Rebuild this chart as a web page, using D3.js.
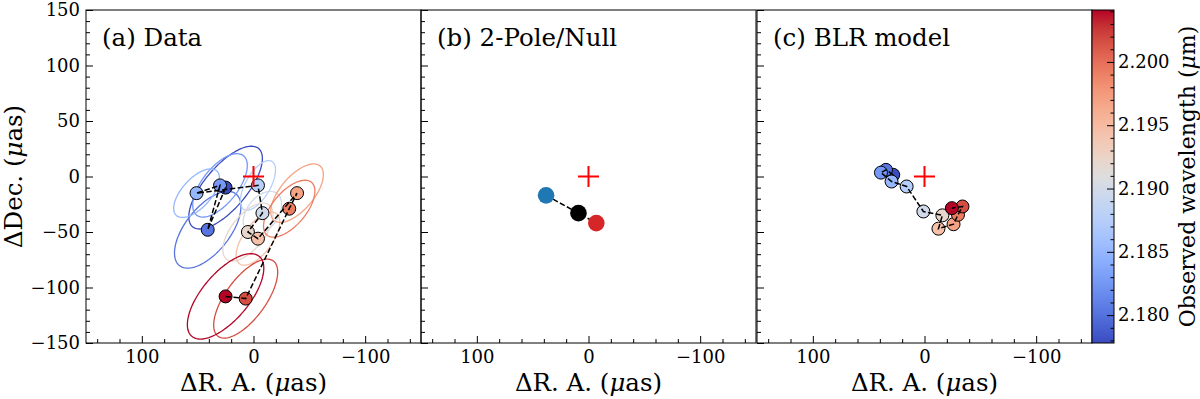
<!DOCTYPE html>
<html>
<head>
<meta charset="utf-8">
<script src="https://cdn.jsdelivr.net/npm/d3@7"></script>
<style>
  body { margin: 0; background: #fff; }
  text { font-family: "DejaVu Serif", serif; fill: #000; }
</style>
</head>
<body>
<svg id="chart" width="1200" height="399"></svg>
<script>
// ---- data ----
// 12 spectral channels, observed wavelength in micron
var wavelengths = [2.1778, 2.1802, 2.1826, 2.1850, 2.1874, 2.1898, 2.1921, 2.1945, 2.1969, 2.1993, 2.2017, 2.2041];

// (a) data: photocentre offsets (uas) and error ellipses
var dataRA  = [25, 41, 30, 51, -4, -8, 5, -4, -39, -32, 7, 25];
var dataDec = [-10, -48, -8, -15, -8, -33, -50, -56, -15, -29, -110, -108];
var ellMajor = [46, 41, 34, 27, 25, 22, 31, 28, 32, 31, 42, 47];
var ellMinor = [19, 20, 16, 13, 11, 14, 15, 13, 15, 15, 18, 21];
var ellAngle = [130, 128, 128, 132, 120, 126, 128, 126, 130, 130, 126, 130];

// (b) 2-pole/null model: blue pole, null, red pole
var poleRA  = [38, 9, -7];
var poleDec = [-17, -33, -42];

// (c) BLR model
var blrRA  = [28, 34.5, 39, 29.5, 16, 1, -16, -12.5, -26, -30, -34, -24.5];
var blrDec = [1.5, 6, 3.5, -4.5, -9, -31.5, -35, -47, -43, -34.5, -27, -28.5];

var panelTitles = ["(a) Data", "(b) 2-Pole/Null", "(c) BLR model"];
var xMajor = [100, 0, -100];
var yMajor = [-150, -100, -50, 0, 50, 100, 150];
var cbarMajor = [2.180, 2.185, 2.190, 2.195, 2.200];

// matplotlib coolwarm (Moreland) anchor colours, evenly spaced 0..1
var coolwarmStops = ["#3b4cc0", "#4d68d7", "#6282ea", "#779af7", "#8db0fe", "#a3c2fe", "#b8d0f9",
  "#cad8ef", "#dddddd", "#ecd3c5", "#f5c4ad", "#f7b194", "#f49a7b", "#ec7f63", "#de604d", "#cb3e38", "#b40426"];

// ---- layout ----
var svg = d3.select("#chart");
var panelLeft = [86, 421, 757], panelW = 335, plotTop = 10, plotBottom = 343;
var tickFont = 18, labelFont = 24.5;

var coolwarm = d3.piecewise(d3.interpolateRgb, coolwarmStops);
var wlDomain = d3.extent(wavelengths);
var colour = d3.scaleSequential(coolwarm).domain(wlDomain);

var y = d3.scaleLinear().domain([-150, 150]).range([plotBottom, plotTop]);
var xMinor = d3.range(-140, 141, 20).filter(function(d) { return d % 100 !== 0; });
var yMinor = d3.range(-140, 141, 10).filter(function(d) { return d % 50 !== 0; });

var fmt = function(d) { return d < 0 ? "\u2212" + Math.abs(d) : String(d); };

function styleAxis(g) {
  g.select(".domain").remove();
  g.attr("font-size", null).attr("font-family", null);
  g.selectAll(".tick line").attr("stroke", "#000").attr("stroke-width", 1);
  g.selectAll(".tick text").style("font-size", tickFont + "px");
}

function muLabel(sel, before, after) {
  sel.append("tspan").text(before);
  sel.append("tspan").attr("font-style", "italic").text("\u03bc");
  sel.append("tspan").text(after);
}

panelLeft.forEach(function(left, p) {
  var x = d3.scaleLinear().domain([150, -150]).range([left, left + panelW]);
  var g = svg.append("g");

  g.append("clipPath").attr("id", "clip" + p)
    .append("rect").attr("x", left).attr("y", plotTop).attr("width", panelW).attr("height", plotBottom - plotTop);

  // axes, inward ticks on bottom and left
  g.append("g").attr("transform", "translate(0," + plotBottom + ")")
    .call(d3.axisBottom(x).tickValues(xMinor).tickSize(-4).tickFormat("")).call(styleAxis);
  g.append("g").attr("transform", "translate(0," + plotBottom + ")")
    .call(d3.axisBottom(x).tickValues(xMajor).tickSize(-7).tickPadding(7).tickFormat(fmt)).call(styleAxis);
  g.append("g").attr("transform", "translate(" + left + ",0)")
    .call(d3.axisLeft(y).tickValues(yMinor).tickSize(-4).tickFormat("")).call(styleAxis);
  g.append("g").attr("transform", "translate(" + left + ",0)")
    .call(d3.axisLeft(y).tickValues(yMajor).tickSize(-7).tickPadding(6)
      .tickFormat(p === 0 ? fmt : "")).call(styleAxis);

  var plot = g.append("g").attr("clip-path", "url(#clip" + p + ")");
  var line = d3.line().x(function(d) { return x(d[0]); }).y(function(d) { return y(d[1]); });

  if (p === 0) {
    // error ellipses
    dataRA.forEach(function(ra, i) {
      var th = ellAngle[i] * Math.PI / 180;
      var pts = d3.range(0, 360, 3).map(function(t) {
        t = t * Math.PI / 180;
        var dx = ellMajor[i] * Math.cos(t), dy = ellMinor[i] * Math.sin(t);
        return [ra + dx * Math.cos(th) - dy * Math.sin(th), dataDec[i] + dx * Math.sin(th) + dy * Math.cos(th)];
      });
      plot.append("path").attr("d", line.curve(d3.curveLinearClosed)(pts))
        .attr("fill", "none").attr("stroke", colour(wavelengths[i])).attr("stroke-width", 1.3);
    });
    line.curve(d3.curveLinear);
  }

  if (p === 0 || p === 2) {
    var ra = p === 0 ? dataRA : blrRA, dec = p === 0 ? dataDec : blrDec;
    var pts = ra.map(function(d, i) { return [d, dec[i], wavelengths[i]]; });
    plot.selectAll("circle.pt").data(pts).enter().append("circle")
      .attr("cx", function(d) { return x(d[0]); })
      .attr("cy", function(d) { return y(d[1]); })
      .attr("r", 6.5)
      .attr("fill", function(d) { return colour(d[2]); })
      .attr("stroke", "#000").attr("stroke-width", 1);
    plot.append("path").attr("d", line(pts))
      .attr("fill", "none").attr("stroke", "#000").attr("stroke-width", 1.5)
      .attr("stroke-dasharray", "5.5,2.4");
  } else {
    var pp = poleRA.map(function(d, i) { return [d, poleDec[i]]; });
    plot.append("path").attr("d", line(pp))
      .attr("fill", "none").attr("stroke", "#000").attr("stroke-width", 1.5)
      .attr("stroke-dasharray", "5.5,2.4");
    var poleColours = ["#1f77b4", "#000000", "#d62728"];
    plot.selectAll("circle.pole").data(pp).enter().append("circle")
      .attr("cx", function(d) { return x(d[0]); })
      .attr("cy", function(d) { return y(d[1]); })
      .attr("r", 8.3)
      .attr("fill", function(d, i) { return poleColours[i]; });
  }

  // origin marker
  var cx = x(0), cy = y(0);
  plot.append("path").attr("d", "M" + (cx - 10.5) + "," + cy + "H" + (cx + 10.5) + "M" + cx + "," + (cy - 10.5) + "V" + (cy + 10.5))
    .attr("stroke", "#ff0000").attr("stroke-width", 2);

  // frame
  g.append("rect").attr("x", left).attr("y", plotTop).attr("width", panelW).attr("height", plotBottom - plotTop)
    .attr("fill", "none").attr("stroke", "#000").attr("stroke-width", 1);

  g.append("text").attr("x", left + 16).attr("y", 46).style("font-size", labelFont + "px").text(panelTitles[p]);

  g.append("text").attr("x", left + panelW / 2).attr("y", 391).attr("text-anchor", "middle")
    .style("font-size", labelFont + "px").call(muLabel, "\u0394R. A. (", "as)");
});

// y label
svg.append("text").attr("transform", "translate(22," + ((plotTop + plotBottom) / 2) + ") rotate(-90)")
  .attr("text-anchor", "middle").style("font-size", labelFont + "px").call(muLabel, "\u0394Dec. (", "as)");

// ---- colorbar ----
var cbLeft = 1092, cbW = 22;
var cb = d3.scaleLinear().domain(wlDomain).range([plotBottom, plotTop]);
var grad = svg.append("defs").append("linearGradient").attr("id", "cw")
  .attr("x1", 0).attr("y1", 1).attr("x2", 0).attr("y2", 0);
d3.range(0, 1.0001, 0.05).forEach(function(t) {
  grad.append("stop").attr("offset", t).attr("stop-color", coolwarm(t));
});
svg.append("rect").attr("x", cbLeft).attr("y", plotTop).attr("width", cbW).attr("height", plotBottom - plotTop)
  .attr("fill", "url(#cw)");

var cbMinor = d3.range(2178, 2205, 1).filter(function(d) { return d % 5 !== 0; })
  .map(function(d) { return d / 1000; });
svg.append("g").attr("transform", "translate(" + (cbLeft + cbW) + ",0)")
  .call(d3.axisRight(cb).tickValues(cbMinor).tickSize(-3.5).tickFormat("")).call(styleAxis);
svg.append("g").attr("transform", "translate(" + (cbLeft + cbW) + ",0)")
  .call(d3.axisRight(cb).tickValues(cbarMajor).tickSize(-7).tickPadding(4).tickFormat(d3.format(".3f")))
  .call(styleAxis);
svg.append("rect").attr("x", cbLeft).attr("y", plotTop).attr("width", cbW).attr("height", plotBottom - plotTop)
  .attr("fill", "none").attr("stroke", "#000").attr("stroke-width", 1);

svg.append("text").attr("transform", "translate(1195," + ((plotTop + plotBottom) / 2) + ") rotate(-90)")
  .attr("text-anchor", "middle").style("font-size", "22px")
  .call(muLabel, "Observed wavelength (", "m)");
</script>
</body>
</html>
